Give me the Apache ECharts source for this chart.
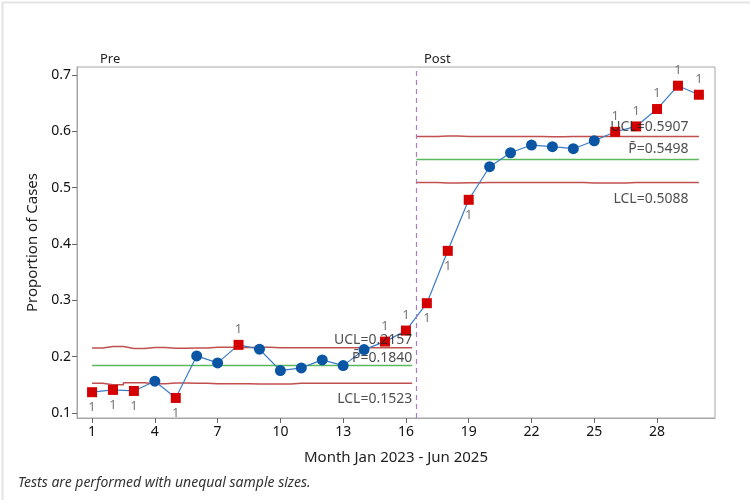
<!DOCTYPE html>
<html>
<head>
<meta charset="utf-8">
<script src="https://cdn.jsdelivr.net/npm/echarts@6/dist/echarts.min.js"></script>
<style>
html,body{margin:0;padding:0;background:#fff}
#chart{width:750px;height:500px}
</style>
</head>
<body>
<div id="chart"></div>
<script>
// P chart values, months 1..30 (Jan 2023 - Jun 2025)
var proportion = [0.1368,0.1409,0.1390,0.1563,0.1266,0.2012,0.1888,0.2208,0.2131,0.1751,
                  0.1799,0.1941,0.1840,0.2124,0.2266,0.2462,0.2948,0.3877,0.4783,0.5370,
                  0.5618,0.5755,0.5725,0.5690,0.5831,0.5990,0.6085,0.6394,0.6808,0.6648];
// 1 = failed test 1 (point beyond limits)
var test1 = [1,1,1,0,1,0,0,1,0,0,0,0,0,0,1,1,1,1,1,0,0,0,0,0,0,1,1,1,1,1];
var preMonths = 16;
var centerPre = 0.1840, centerPost = 0.5498;
var uclPre = [0.2154,0.2180,0.2145,0.2160,0.2148,0.2154,0.2164,0.2160,0.2165,0.2155,0.2155,0.2155,0.2155,0.2155,0.2155,0.2155];
var lclPre = [0.1526,0.1500,0.1536,0.1520,0.1532,0.1526,0.1516,0.1520,0.1512,0.1512,0.1525,0.1525,0.1525,0.1525,0.1525,0.1525];
var uclPost = [0.5905,0.5917,0.5905,0.5908,0.5908,0.5908,0.5902,0.5908,0.5907,0.5907,0.5907,0.5907,0.5907,0.5907];
var lclPost = [0.5092,0.5080,0.5085,0.5088,0.5088,0.5088,0.5088,0.5088,0.5082,0.5082,0.5088,0.5088,0.5088,0.5088];
var limitNames = ['UCL=0.2157', 'P\u0304=0.1840', 'LCL=0.1523', 'UCL=0.5907', 'P\u0304=0.5498', 'LCL=0.5088'];
var limitValues = [0.2157, centerPre, 0.1523, 0.5907, centerPost, 0.5088];
var xTicks = [1,4,7,10,13,16,19,22,25,28];
var yTicks = [0.1,0.2,0.3,0.4,0.5,0.6,0.7];

var txtFont = 'Noto Sans';

function stepData(vals, firstMonth, startX, endX){
  var d = [[startX, vals[0]]];
  for (var i = 0; i < vals.length; i++) d.push([firstMonth + i, vals[i]]);
  d.push([endX, vals[vals.length-1]]);
  return d;
}
function flat(v, x0, x1){ return [[x0, v], [x1, v]]; }

var pts = proportion.map(function(v, i){ return [i+1, v]; });
var okPts = [], badPts = [];
pts.forEach(function(p, i){
  var c = (i < preMonths) ? centerPre : centerPost;
  if (test1[i]) badPts.push({value: p, label: {position: p[1] > c ? 'top' : 'bottom'}});
  else okPts.push(p);
});

// limit text anchored at right end of each stage
var labelEnd = [16.3, 16.3, 16.3, 29.5, 29.5, 29.5];
var labelDy = [-1, -1, 9, -2, -3, 9];
var limitText = limitNames.map(function(t, i){
  var below = labelDy[i] > 0;
  return {
    value: [labelEnd[i], limitValues[i]],
    label: {formatter: t, verticalAlign: below ? 'top' : 'bottom', offset: [0, labelDy[i]]}
  };
});

var red = '#c0504d', green = '#5cb85c';

function limitSeries(name, data, color){
  return {name: name, type: 'line', step: 'middle', data: data, symbol: 'none', silent: true,
          lineStyle: {color: color, width: 1.5}, z: 1};
}

var option = {
  backgroundColor: '#fff',
  animation: false,
  grid: {left: 77, right: 35, top: 67, bottom: 82, show: true, borderColor: '#a6a6a6', borderWidth: 1},
  xAxis: {
    type: 'value', min: 0.28, max: 30.77,
    name: 'Month Jan 2023 - Jun 2025', nameLocation: 'middle', nameGap: 32,
    nameTextStyle: {fontSize: 15, color: '#222', fontFamily: txtFont},
    axisLine: {show: true, lineStyle: {color: '#a6a6a6'}},
    axisTick: {show: true, customValues: xTicks, length: 5, lineStyle: {color: '#666'}},
    axisLabel: {customValues: xTicks, fontSize: 14, color: '#111', fontFamily: txtFont, margin: 7},
    splitLine: {show: false}
  },
  yAxis: {
    type: 'value', min: 0.091, max: 0.714,
    name: 'Proportion of Cases', nameLocation: 'middle', nameGap: 30,
    nameTextStyle: {fontSize: 15, color: '#222', fontFamily: txtFont},
    axisLine: {show: true, lineStyle: {color: '#a6a6a6'}},
    axisTick: {show: true, customValues: yTicks, length: 5, lineStyle: {color: '#666'}},
    axisLabel: {customValues: yTicks, fontSize: 14, color: '#111', fontFamily: txtFont, margin: 6,
                formatter: function(v){ return v.toFixed(1); }},
    splitLine: {show: false}
  },
  series: [
    limitSeries('UCL pre', stepData(uclPre, 1, 1, 16.3), red),
    limitSeries('LCL pre', stepData(lclPre, 1, 1, 16.3), red),
    limitSeries('P pre', flat(centerPre, 1, 16.3), green),
    limitSeries('UCL post', stepData(uclPost, 17, 16.5, 30), red),
    limitSeries('LCL post', stepData(lclPost, 17, 16.5, 30), red),
    limitSeries('P post', flat(centerPost, 16.5, 30), green),
    {
      name: 'Limits text', type: 'scatter', data: limitText, symbolSize: 1, silent: true, z: 6,
      itemStyle: {color: 'rgba(0,0,0,0)'},
      label: {show: true, position: 'inside', align: 'right', color: '#222', fontSize: 14, fontFamily: txtFont}
    },
    {
      name: 'Proportion', type: 'line', data: pts, symbol: 'none', z: 3,
      lineStyle: {color: '#3a7cc6', width: 1.2},
      markLine: {
        symbol: 'none', silent: true, label: {show: false},
        lineStyle: {color: '#a77dc8', type: [5, 4], width: 1.2},
        data: [{xAxis: 16.5}]
      }
    },
    {
      name: 'In control', type: 'scatter', data: okPts, symbol: 'circle', symbolSize: 11, z: 4,
      itemStyle: {color: '#0b56a4', opacity: 1}
    },
    {
      name: 'Test 1', type: 'scatter', data: badPts, symbol: 'rect', symbolSize: 10, z: 5,
      itemStyle: {color: '#d40000', opacity: 1},
      label: {show: true, formatter: '1', color: '#777', fontSize: 13, fontFamily: txtFont, distance: 4}
    }
  ],
  graphic: [
    {type: 'rect', left: 0, top: 0, shape: {width: 749, height: 499}, style: {fill: 'none', stroke: '#e3e3e3', lineWidth: 2}, silent: true},
    {type: 'text', left: 100, top: 53, style: {text: 'Pre', fontSize: 13, fill: '#222', fontFamily: txtFont}},
    {type: 'text', left: 424, top: 53, style: {text: 'Post', fontSize: 13, fill: '#222', fontFamily: txtFont}},
    {type: 'text', left: 18, top: 476, style: {text: 'Tests are performed with unequal sample sizes.', fontSize: 14, fontStyle: 'italic', fill: '#333', fontFamily: txtFont}}
  ]
};

var chart = echarts.init(document.getElementById('chart'));
chart.setOption(option);
</script>
</body>
</html>
